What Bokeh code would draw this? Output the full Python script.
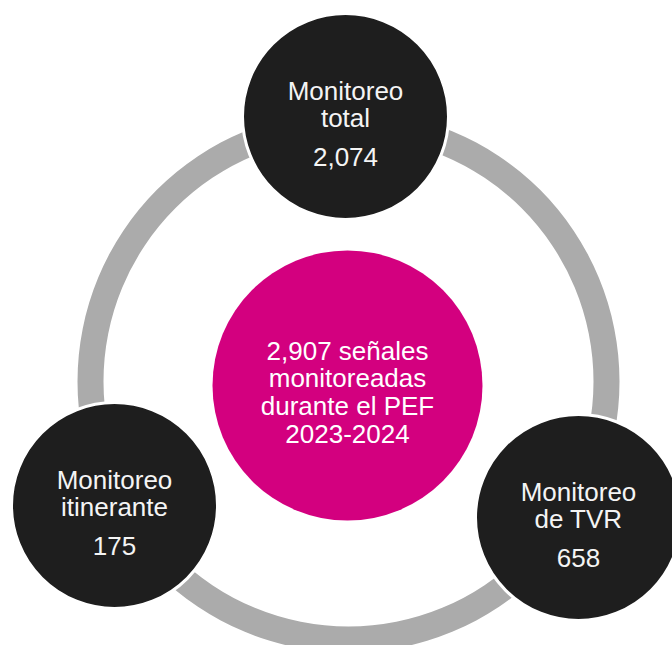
from bokeh.plotting import figure
from bokeh.models import Range1d
from bokeh.embed import file_html
from bokeh.resources import INLINE
from bokeh.core.properties import value

# ---- data ----
node_titles = [["Monitoreo", "total"], ["Monitoreo", "itinerante"], ["Monitoreo", "de TVR"]]
node_values = ["2,074", "175", "658"]
center_lines = ["2,907 señales", "monitoreadas", "durante el PEF", "2023-2024"]

# ---- layout (pixel-like coordinates, y downward) ----
W, H = 672, 645
ring_center = (348, 381)
ring_inner, ring_outer = 245, 271
node_centers = [(345, 116), (114, 505), (578, 517)]
node_radius = 103
hub_center = (347, 385)
hub_radius = 135
title_first_offset = -26
line_step = 27.5
value_offset = 40
center_first_offset = -35
center_step = 27.7

FONT = value("Liberation Sans")
SIZE = value("26px")

p = figure(width=W, height=H, output_backend="svg", toolbar_location=None,
           x_range=Range1d(0, W), y_range=Range1d(H, 0),
           x_axis_location=None, y_axis_location=None, min_border=0)
p.grid.visible = False
p.outline_line_color = None
p.background_fill_color = "white"
p.border_fill_color = "white"

# gray ring
p.annulus(x=[ring_center[0]], y=[ring_center[1]], inner_radius=ring_inner,
          outer_radius=ring_outer, fill_color="#ababab", line_color=None)

# center hub
p.circle(x=[hub_center[0]], y=[hub_center[1]], radius=hub_radius,
         fill_color="#d3007f", line_color=None)

# nodes
p.circle(x=[c[0] for c in node_centers], y=[c[1] for c in node_centers],
         radius=node_radius, fill_color="#1e1e1e", line_color="white", line_width=3)

# node texts
tx, ty, tt = [], [], []
for (cx, cy), title, val in zip(node_centers, node_titles, node_values):
    for i, line in enumerate(title):
        tx.append(cx)
        ty.append(cy + title_first_offset + i * line_step)
        tt.append(line)
    tx.append(cx)
    ty.append(cy + value_offset)
    tt.append(val)
p.text(x=tx, y=ty, text=tt, text_font=FONT, text_font_size=SIZE,
       text_color="#f4f4f4", text_align="center", text_baseline="alphabetic")

# center text
cx_, cy_ = hub_center
p.text(x=[cx_] * len(center_lines),
       y=[cy_ + center_first_offset + i * center_step for i in range(len(center_lines))],
       text=center_lines, text_font=FONT, text_font_size=SIZE,
       text_color="white", text_align="center", text_baseline="alphabetic")

open("out.html", "w").write(file_html(p, INLINE))
